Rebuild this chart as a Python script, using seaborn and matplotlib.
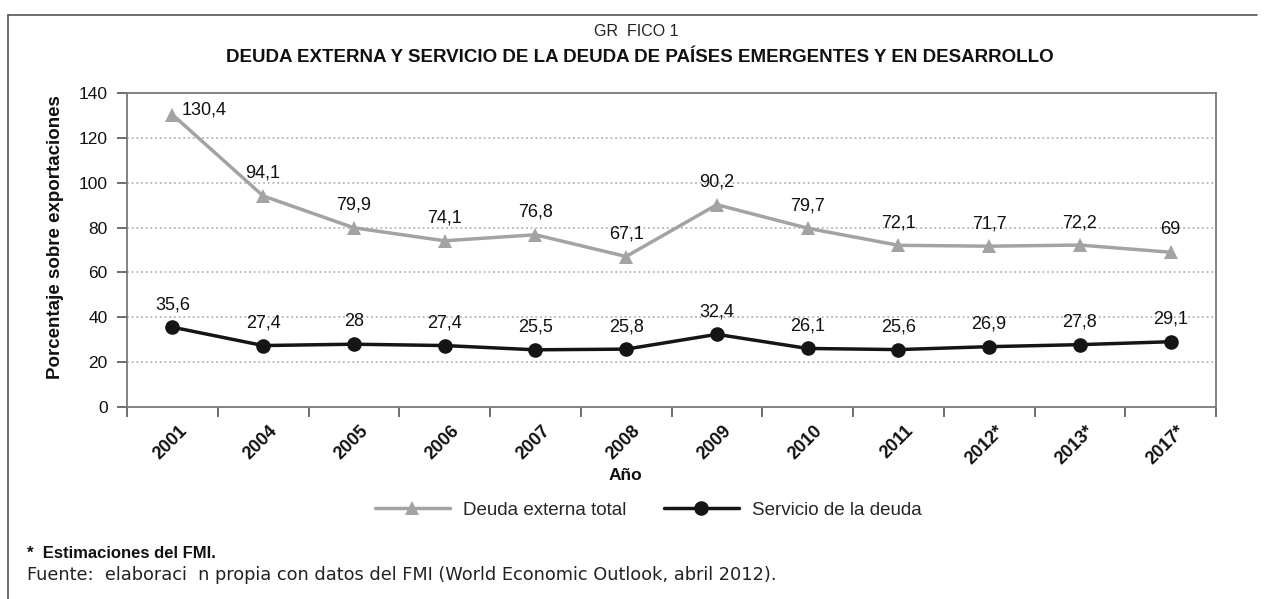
import matplotlib
matplotlib.use("Agg")
import matplotlib.pyplot as plt
import matplotlib.transforms as mtransforms
from matplotlib.lines import Line2D
import seaborn as sns
import pandas as pd

# ---- data ----
years = ["2001", "2004", "2005", "2006", "2007", "2008", "2009", "2010", "2011", "2012*", "2013*", "2017*"]
deuda_externa = [130.4, 94.1, 79.9, 74.1, 76.8, 67.1, 90.2, 79.7, 72.1, 71.7, 72.2, 69.0]
servicio_deuda = [35.6, 27.4, 28.0, 27.4, 25.5, 25.8, 32.4, 26.1, 25.6, 26.9, 27.8, 29.1]
deuda_labels = ["130,4", "94,1", "79,9", "74,1", "76,8", "67,1", "90,2", "79,7", "72,1", "71,7", "72,2", "69"]
servicio_labels = ["35,6", "27,4", "28", "27,4", "25,5", "25,8", "32,4", "26,1", "25,6", "26,9", "27,8", "29,1"]
series_names = ["Deuda externa total", "Servicio de la deuda"]
y_ticks = [0, 20, 40, 60, 80, 100, 120, 140]

sns.set_theme(style="white")
plt.rcParams["font.family"] = ["Liberation Sans", "DejaVu Sans"]

df = pd.DataFrame({
    "Año": years * 2,
    "valor": deuda_externa + servicio_deuda,
    "serie": [series_names[0]] * len(years) + [series_names[1]] * len(years),
})

W, H = 1266, 599
fig = plt.figure(figsize=(W / 100, H / 100), dpi=100)
ax = fig.add_axes([127 / W, 1 - 407 / H, (1216 - 127) / W, (407 - 93) / H])

gray = "#a3a3a3"
black = "#151515"
sns.lineplot(data=df, x="Año", y="valor", hue="serie", style="serie",
             palette={series_names[0]: gray, series_names[1]: black},
             markers={series_names[0]: "^", series_names[1]: "o"},
             dashes=False, sort=False, linewidth=2.5, markersize=10.5,
             markeredgewidth=0, ax=ax)

ax.set_xlim(-0.5, len(years) - 0.5)
ax.set_ylim(0, 140)
ax.set_yticks(y_ticks)
ax.set_yticklabels([str(v) for v in y_ticks], fontsize=12.5, color="#111111")
for yv in y_ticks[1:-1]:
    ax.axhline(yv, color="#b5b5b5", lw=1.3, ls=(0, (1, 1.6)), zorder=0)

for s in ax.spines.values():
    s.set_color("#7a7a7a")
    s.set_linewidth(1.3)
    s.set_visible(True)

ax.set_xticks(range(len(years)))
ax.set_xticklabels(years, rotation=45, ha="right", rotation_mode="anchor",
                   fontsize=13, fontweight="bold", color="#111111")
ax.set_xticks([i - 0.5 for i in range(len(years) + 1)], minor=True)
ax.tick_params(axis="x", which="major", length=0, pad=11)
ax.tick_params(axis="x", which="minor", length=7, width=1.2, color="#555555", direction="out", bottom=True)
ax.tick_params(axis="y", length=7, width=1.2, color="#555555", direction="out", left=True, pad=7)
offset = mtransforms.ScaledTranslation(6 / 100, 0, fig.dpi_scale_trans)
for lbl in ax.get_xticklabels():
    lbl.set_transform(lbl.get_transform() + offset)

ax.set_xlabel("")
ax.set_ylabel("")

# data labels
for i, (v, t) in enumerate(zip(deuda_externa, deuda_labels)):
    if i == 0:
        ax.annotate(t, (i, v), xytext=(7, 0), textcoords="offset points",
                    ha="left", va="baseline", fontsize=13, color="#111111")
    else:
        ax.annotate(t, (i, v), xytext=(0, 13), textcoords="offset points",
                    ha="center", va="baseline", fontsize=13, color="#111111")
for i, (v, t) in enumerate(zip(servicio_deuda, servicio_labels)):
    ax.annotate(t, (i, v), xytext=(0, 13), textcoords="offset points",
                ha="center", va="baseline", fontsize=13, color="#111111")

# legend
handles, labels = ax.get_legend_handles_labels()
ax.get_legend().remove()
fig.legend(handles, labels, loc="center", bbox_to_anchor=(648 / W, 1 - 510 / H),
           ncol=2, frameon=False, fontsize=13.5, handlelength=4, columnspacing=2.0,
           handletextpad=0.7)

# titles and axis labels
fig.text(636 / W, 1 - 32 / H, "GR  FICO 1", ha="center", va="center", fontsize=11.5, color="#222222")
fig.text(640 / W, 1 - 57 / H,
         "DEUDA EXTERNA Y SERVICIO DE LA DEUDA DE PAÍSES EMERGENTES Y EN DESARROLLO",
         ha="center", va="center", fontsize=13.5, fontweight="bold", color="#111111")
fig.text(56 / W, 1 - 237 / H, "Porcentaje sobre exportaciones", rotation=90,
         ha="center", va="center", fontsize=13.5, fontweight="bold", color="#111111")
fig.text(625 / W, 1 - 476 / H, "Año", ha="center", va="center", fontsize=12.5,
         fontweight="bold", color="#111111")
fig.text(27 / W, 1 - 553 / H, "*  Estimaciones del FMI.", ha="left", va="center",
         fontsize=12, fontweight="bold", color="#111111")
fig.text(27 / W, 1 - 575 / H,
         "Fuente:  elaboraci  n propia con datos del FMI (World Economic Outlook, abril 2012).",
         ha="left", va="center", fontsize=12.8, family=["DejaVu Sans"], color="#222222")

# outer frame
fig.add_artist(Line2D([8 / W, 1257 / W], [1 - 15 / H, 1 - 15 / H], transform=fig.transFigure,
                      color="#555555", lw=1.2))
fig.add_artist(Line2D([8 / W, 8 / W], [1 - 15 / H, 0], transform=fig.transFigure,
                      color="#555555", lw=1.2))

fig.savefig("out.png", dpi=100)
